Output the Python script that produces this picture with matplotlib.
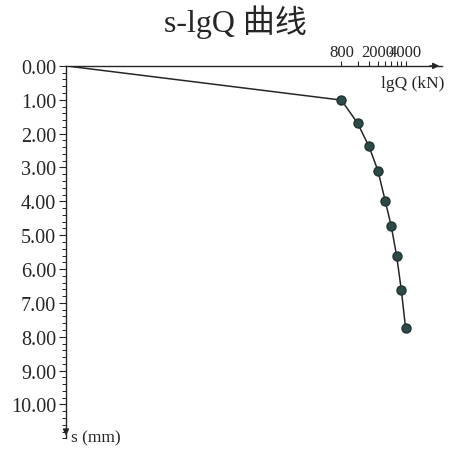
import numpy as np
import matplotlib.pyplot as plt
from matplotlib.ticker import FixedLocator, MultipleLocator, NullFormatter

# load steps (kN) and settlement (mm); first point is the unloaded origin
loads = [0, 800, 1200, 1600, 2000, 2400, 2800, 3200, 3600, 4000]
settle = [0.0, 1.01, 1.69, 2.38, 3.09, 3.98, 4.74, 5.61, 6.62, 7.73]
label_loads = [800, 2000, 4000]
s_major = np.arange(0, 11, 1)

Q_MIN, Q_MAX = 0.8, 10000
S_MAX = 11.0

plt.rcParams['font.family'] = ['Liberation Serif', 'Noto Sans CJK SC']
ink = '#262626'

fig = plt.figure(figsize=(4.52, 4.52), dpi=100)
ax = fig.add_axes([0.146, 0.028, 0.832, 0.824])

q = np.maximum(np.array(loads, dtype=float), Q_MIN)
ax.plot(q, settle, color=ink, lw=1.1, zorder=2)
ax.plot(q[1:], settle[1:], 'o', ms=6.5, color='#2e4a48', mec='#1f3332', zorder=3)

ax.set_xscale('log')
ax.set_xlim(Q_MIN, Q_MAX)
ax.set_ylim(S_MAX, 0)

for sp in ['right', 'bottom']:
    ax.spines[sp].set_visible(False)
for sp in ['left', 'top']:
    ax.spines[sp].set_color(ink)
    ax.spines[sp].set_linewidth(1.0)

# x axis along the top
ax.xaxis.set_ticks_position('top')
ax.xaxis.set_major_locator(FixedLocator(label_loads))
ax.xaxis.set_minor_locator(FixedLocator(loads[1:]))
ax.set_xticklabels([str(v) for v in label_loads])
ax.xaxis.set_minor_formatter(NullFormatter())
ax.tick_params(axis='x', which='both', direction='out', length=3.5, width=0.8,
               color=ink, labelsize=12, pad=1, labelcolor=ink)

# y axis
ax.set_yticks(s_major)
ax.set_yticklabels(['%.2f' % v for v in s_major])
ax.yaxis.set_minor_locator(MultipleLocator(0.2))
ax.tick_params(axis='y', which='major', direction='out', length=5, width=0.8,
               color=ink, labelsize=14.5, pad=2, labelcolor=ink)
ax.tick_params(axis='y', which='minor', direction='out', length=3, width=0.7, color=ink)

# arrow heads on the axes
ax.annotate('', xy=(1.0, 1.0), xytext=(0.96, 1.0), xycoords='axes fraction',
            arrowprops=dict(arrowstyle='-|>', color=ink, lw=1.0,
                            mutation_scale=9), annotation_clip=False)
ax.annotate('', xy=(0.0, 0.0), xytext=(0.0, 0.03), xycoords='axes fraction',
            arrowprops=dict(arrowstyle='-|>', color=ink, lw=1.0,
                            mutation_scale=9), annotation_clip=False)

ax.text(1.005, 0.975, 'lgQ (kN)', transform=ax.transAxes, ha='right', va='top',
        fontsize=12.5, color=ink)
ax.text(0.012, 0.003, 's (mm)', transform=ax.transAxes, ha='left', va='center',
        fontsize=12.5, color=ink)

fig.text(0.52, 0.952, 's-lgQ 曲线', ha='center', va='center', fontsize=23, color=ink)

fig.savefig('out.png', dpi=100, facecolor='white')
